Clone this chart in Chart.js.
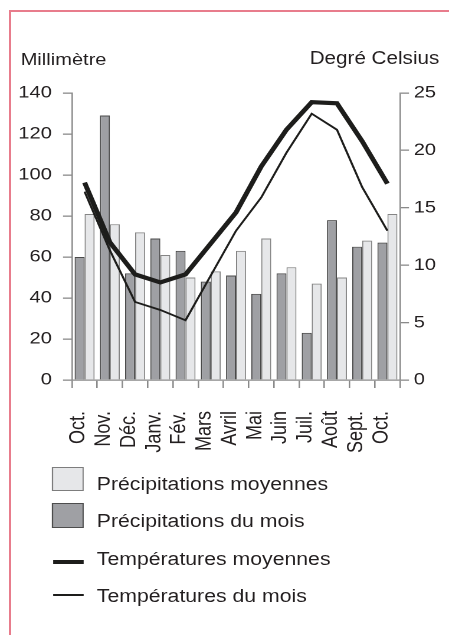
<!DOCTYPE html>
<html>
<head>
<meta charset="utf-8">
<script src="https://cdn.jsdelivr.net/npm/chart.js@4/dist/chart.umd.min.js"></script>
<style>
  html, body { margin: 0; padding: 0; background: #fff; }
  body { width: 449px; height: 635px; position: relative; overflow: hidden; font-family: "Liberation Sans", Arial, sans-serif; color: #231f20; }
  #frame { position: absolute; left: 8.5px; top: 9.5px; width: 441px; height: 626px; border-left: 2px solid #e87c8c; border-top: 2px solid #e87c8c; box-sizing: border-box; }
  #wrap { position: absolute; left: 0; top: 0; width: 381px; height: 635px; transform: scaleX(1.18); transform-origin: 0 0; }
  #box { position: absolute; left: 0; top: 0; width: 381px; height: 635px; }
  .txt { position: absolute; line-height: 1; white-space: nowrap; }
  .sw { position: absolute; box-sizing: border-box; }
</style>
</head>
<body>
<div id="frame"></div>
<div id="wrap">
  <div id="box"><canvas id="chart"></canvas></div>
  <div class="txt" style="left:17.5px; top:50.6px; font-size:17px;">Millimètre</div>
  <div class="txt" style="right:8.7px; top:50.2px; font-size:17.5px;">Degré Celsius</div>

  <div class="sw" style="left:43.8px; top:466.7px; width:26.8px; height:24px; background:#e6e7e9; border:1px solid #7d7d7d;"></div>
  <div class="txt" style="left:82px; top:474.8px; font-size:18px;">Précipitations moyennes</div>
  <div class="sw" style="left:43.8px; top:503px; width:26.8px; height:25px; background:#9fa0a4; border:1px solid #4d4d4d;"></div>
  <div class="txt" style="left:82px; top:512.1px; font-size:18px;">Précipitations du mois</div>
  <div class="sw" style="left:44.5px; top:560px; width:26px; height:4.3px; background:#1d1d1b;"></div>
  <div class="txt" style="left:82px; top:549.8px; font-size:18px;">Températures moyennes</div>
  <div class="sw" style="left:44.5px; top:594.3px; width:26px; height:1.9px; background:#1d1d1b;"></div>
  <div class="txt" style="left:82px; top:586.5px; font-size:18px;">Températures du mois</div>
</div>
<script>
const months = ["Oct.", "Nov.", "Déc.", "Janv.", "Fév.", "Mars", "Avril", "Mai", "Juin", "Juil.", "Août", "Sept.", "Oct."];
const precipMois = [60, 129, 52, 69, 63, 48, 51, 42, 52, 23, 78, 65, 67];
const precipMoyennes = [81, 76, 72, 61, 50, 53, 63, 69, 55, 47, 50, 68, 81];
const tempMoyennes = [17.2, 12.0, 9.2, 8.5, 9.2, 11.9, 14.6, 18.6, 21.8, 24.2, 24.1, 20.8, 17.1];
const tempMois = [16.4, 11.3, 6.8, 6.1, 5.2, 9.1, 13.0, 15.9, 19.8, 23.2, 21.8, 16.8, 13.0];

const mmTicks = [0, 20, 40, 60, 80, 100, 120, 140];
const degTicks = [0, 5, 10, 15, 20, 25];

const fontFamily = "'Liberation Sans', Arial, sans-serif";
const textColor = "#231f20";
const axisColor = "#8a8a8a";

const ctx = document.getElementById("chart").getContext("2d");

new Chart(ctx, {
  type: "bar",
  data: {
    labels: months,
    datasets: [
      {
        label: "Températures moyennes",
        type: "line",
        data: tempMoyennes,
        yAxisID: "y1",
        borderColor: "#1d1d1b",
        borderWidth: 4.2,
        pointRadius: 0,
        tension: 0,
        fill: false,
        borderJoinStyle: "miter",
        order: 0,
      },
      {
        label: "Températures du mois",
        type: "line",
        data: tempMois,
        yAxisID: "y1",
        borderColor: "#1d1d1b",
        borderWidth: 1.8,
        pointRadius: 0,
        tension: 0,
        fill: false,
        order: 0,
      },
      {
        label: "Précipitations du mois",
        data: precipMois,
        yAxisID: "y",
        backgroundColor: "#9fa0a4",
        borderColor: "#4a4a4a",
        borderWidth: 1,
        categoryPercentage: 0.79,
        barPercentage: 1.0,
        order: 1,
      },
      {
        label: "Précipitations moyennes",
        data: precipMoyennes,
        yAxisID: "y",
        backgroundColor: "#e6e7e9",
        borderColor: "#858585",
        borderWidth: 1,
        categoryPercentage: 0.79,
        barPercentage: 1.0,
        order: 1,
      },
    ],
  },
  options: {
    responsive: true,
    maintainAspectRatio: false,
    animation: false,
    devicePixelRatio: 2,
    layout: { padding: { top: 93, bottom: 165, left: 0, right: 0 } },
    plugins: {
      legend: { display: false },
      tooltip: { enabled: false },
    },
    scales: {
      x: {
        type: "category",
        grid: {
          offset: true,
          drawOnChartArea: false,
          drawTicks: true,
          tickLength: 8,
          color: axisColor,
          lineWidth: 1.3,
        },
        border: { color: axisColor, width: 1.3 },
        ticks: {
          autoSkip: false,
          minRotation: 90,
          maxRotation: 90,
          padding: 23,
          labelOffset: -5,
          color: textColor,
          font: { family: fontFamily, size: 18 },
        },
        afterFit: (scale) => {
          scale.height = 90;
        },
      },
      y: {
        position: "left",
        min: 0,
        max: 140,
        afterBuildTicks: (scale) => {
          scale.ticks = mmTicks.map((v) => ({ value: v }));
        },
        grid: {
          drawOnChartArea: false,
          drawTicks: true,
          tickLength: 7.6,
          color: axisColor,
          lineWidth: 1.3,
        },
        border: { color: axisColor, width: 1.3 },
        ticks: {
          padding: 9.5,
          color: textColor,
          font: { family: fontFamily, size: 17 },
        },
        afterFit: (scale) => {
          scale.width = 61;
        },
      },
      y1: {
        position: "right",
        min: 0,
        max: 25,
        afterBuildTicks: (scale) => {
          scale.ticks = degTicks.map((v) => ({ value: v }));
        },
        grid: {
          drawOnChartArea: false,
          drawTicks: true,
          tickLength: 7.6,
          color: axisColor,
          lineWidth: 1.3,
        },
        border: { color: axisColor, width: 1.3 },
        ticks: {
          padding: 4,
          color: textColor,
          font: { family: fontFamily, size: 17 },
        },
        afterFit: (scale) => {
          scale.width = 42;
        },
      },
    },
  },
});
</script>
</body>
</html>
